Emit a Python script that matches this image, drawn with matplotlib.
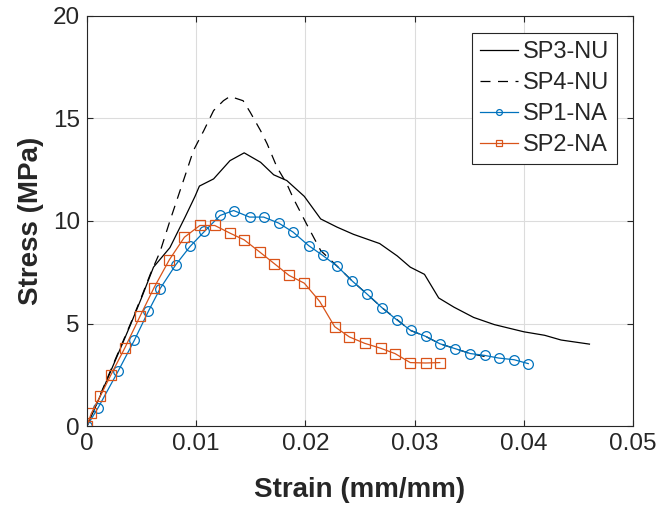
import matplotlib
matplotlib.use("Agg")
import matplotlib.pyplot as plt

# ---- data ----
sp3_x = [0, 0.001, 0.002, 0.003, 0.004, 0.005, 0.0061, 0.0076, 0.009, 0.0099, 0.0103,
         0.0116, 0.0131, 0.0144, 0.0159, 0.0171, 0.0183, 0.0199, 0.0214, 0.0229, 0.0244,
         0.0268, 0.0284, 0.0296, 0.0309, 0.0322, 0.0336, 0.0354, 0.0373, 0.0400, 0.0419,
         0.0434, 0.0460]
sp3_y = [0, 1.2, 2.45, 3.7, 4.95, 6.25, 7.75, 8.7, 10.2, 11.2, 11.7,
         12.05, 12.94, 13.32, 12.86, 12.25, 11.97, 11.2, 10.1, 9.7, 9.35,
         8.9, 8.3, 7.75, 7.4, 6.25, 5.8, 5.3, 4.95, 4.6, 4.43,
         4.2, 4.0]

sp4_x = [0, 0.001, 0.002, 0.003, 0.004, 0.005, 0.0058, 0.0067, 0.0076, 0.00853, 0.00915,
         0.00975, 0.0107, 0.0116, 0.0125, 0.0131, 0.0143, 0.01495, 0.0159, 0.0165, 0.0174,
         0.0183, 0.0189, 0.0201, 0.0214, 0.0229, 0.0243, 0.0256, 0.0270, 0.0284, 0.0296,
         0.0310, 0.0323, 0.0337, 0.0351, 0.0364]
sp4_y = [0, 1.25, 2.5, 3.75, 5.0, 6.3, 7.4, 8.5, 10.0, 11.48, 12.46,
         13.43, 14.4, 15.38, 15.86, 16.07, 15.86, 15.3, 14.4, 13.76, 12.62,
         11.81, 11.1, 9.86, 8.56, 7.8, 7.07, 6.46, 5.78, 5.19, 4.67,
         4.38, 4.02, 3.78, 3.54, 3.40]

sp1_x = [0, 0.00104, 0.00287, 0.00434, 0.00563, 0.0067, 0.00814, 0.00945, 0.01076, 0.0122,
         0.01343, 0.01489, 0.01618, 0.01755, 0.01887, 0.0203, 0.02159, 0.0229, 0.0243, 0.0256,
         0.0270, 0.02835, 0.02963, 0.0310, 0.0323, 0.0337, 0.0351, 0.0364, 0.0377, 0.0391,
         0.0404]
sp1_y = [0, 0.91, 2.69, 4.18, 5.6, 6.7, 7.87, 8.76, 9.49, 10.27,
         10.51, 10.19, 10.19, 9.9, 9.46, 8.8, 8.32, 7.8, 7.07, 6.46,
         5.78, 5.19, 4.67, 4.38, 4.02, 3.78, 3.54, 3.45, 3.32, 3.24,
         3.05]

sp2_x = [0, 0.0004, 0.00122, 0.0022, 0.00349, 0.00486, 0.00615, 0.00755, 0.00893, 0.01034,
         0.01171, 0.01309, 0.0144, 0.01584, 0.01716, 0.0185, 0.0199, 0.02131, 0.02268, 0.02403,
         0.02542, 0.02688, 0.0282, 0.0296, 0.0310, 0.0323]
sp2_y = [0, 0.62, 1.46, 2.5, 3.83, 5.35, 6.75, 8.11, 9.21, 9.78,
         9.78, 9.41, 9.08, 8.48, 7.92, 7.35, 6.97, 6.08, 4.85, 4.35,
         4.04, 3.8, 3.54, 3.1, 3.08, 3.1]

x_ticks = [0, 0.01, 0.02, 0.03, 0.04, 0.05]
x_ticklabels = ["0", "0.01", "0.02", "0.03", "0.04", "0.05"]
y_ticks = [0, 5, 10, 15, 20]

blue = "#0072BD"
orange = "#D95319"
axcol = "#262626"

plt.rcParams["font.family"] = ["Liberation Sans", "DejaVu Sans"]

fig = plt.figure(figsize=(6.63, 5.08), dpi=100)
ax = fig.add_axes([0.131, 0.161, 0.824, 0.808])

lw = 0.9
ax.plot(sp3_x, sp3_y, color="black", lw=lw, ls="-", label="SP3-NU")
ax.plot(sp4_x, sp4_y, color="black", lw=lw, ls=(0, (8, 6)), label="SP4-NU")
ax.plot(sp1_x, sp1_y, color=blue, lw=lw, marker="o", ms=7, mfc="none", mew=0.9, label="SP1-NA")
ax.plot(sp2_x, sp2_y, color=orange, lw=lw, marker="s", ms=7, mfc="none", mew=0.9, label="SP2-NA")

ax.set_xlim(0, 0.05)
ax.set_ylim(0, 20)
ax.set_xticks(x_ticks)
ax.set_xticklabels(x_ticklabels)
ax.set_yticks(y_ticks)
ax.grid(True, color="#dcdcdc", lw=0.8)
ax.set_axisbelow(True)
ax.tick_params(direction="in", labelsize=17.5, colors=axcol, length=4, width=0.8,
               top=True, right=True, pad=5)
for s in ax.spines.values():
    s.set_color(axcol)
    s.set_linewidth(0.8)

ax.set_xlabel("Strain (mm/mm)", fontsize=20, fontweight="bold", color=axcol, labelpad=16)
ax.set_ylabel("Stress (MPa)", fontsize=20, fontweight="bold", color=axcol, labelpad=6)

leg = ax.legend(loc="upper right", bbox_to_anchor=(0.971, 0.958), fontsize=17,
                frameon=True, fancybox=False, framealpha=1, edgecolor=axcol,
                handlelength=1.6, handletextpad=0.2, labelspacing=0.38,
                borderpad=0.35, borderaxespad=0.0, markerscale=0.6)
leg.get_frame().set_linewidth(0.8)
for t in leg.get_texts():
    t.set_color(axcol)

fig.savefig("out.png", dpi=100)
